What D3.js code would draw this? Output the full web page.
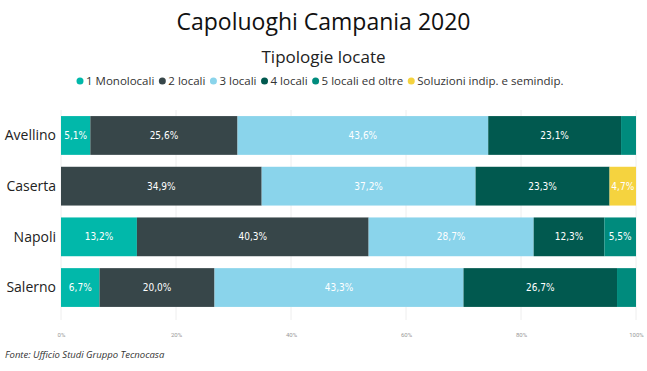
<!DOCTYPE html>
<html>
<head>
<meta charset="utf-8">
<script src="https://cdn.jsdelivr.net/npm/d3@7"></script>
<style>
  body { margin: 0; background: #fff; }
  svg text { font-family: "Open Sans", "Noto Sans", sans-serif; }
</style>
</head>
<body>
<div id="chart"></div>
<script>
// data
var cities = ["Avellino", "Caserta", "Napoli", "Salerno"];
var seriesNames = ["1 Monolocali", "2 locali", "3 locali", "4 locali", "5 locali ed oltre", "Soluzioni indip. e semindip."];
var seriesColors = ["#01B8AA", "#374649", "#8AD4EB", "#01594F", "#008B7D", "#F5D33F"];
var monolocali = [5.1, 0, 13.2, 6.7];
var locali2 = [25.6, 34.9, 40.3, 20.0];
var locali3 = [43.6, 37.2, 28.7, 43.3];
var locali4 = [23.1, 23.3, 12.3, 26.7];
var locali5 = [2.6, 0, 5.5, 3.3];
var indip = [0, 4.7, 0, 0];
var tickValues = [0, 20, 40, 60, 80, 100];

var width = 647, height = 371;
var margin = {left: 61, right: 11, top: 110, bottom: 58};

var svg = d3.select("#chart").append("svg")
    .attr("width", width)
    .attr("height", height);

var table = cities.map(function(c, i) {
  return {city: c, values: [monolocali[i], locali2[i], locali3[i], locali4[i], locali5[i], indip[i]]};
});

var xScale = d3.scaleLinear()
  .domain([0, 100])
  .range([margin.left, width - margin.right]);

var yScale = d3.scaleBand()
  .domain(cities)
  .range([margin.top, height - margin.bottom])
  .paddingInner(0.235)
  .paddingOuter(0.12);

// gridlines
svg.append("g")
  .selectAll("line")
  .data(tickValues)
  .enter()
  .append("line")
  .attr("x1", function(d) { return xScale(d); })
  .attr("x2", function(d) { return xScale(d); })
  .attr("y1", margin.top)
  .attr("y2", height - margin.bottom + 7)
  .style("stroke", "#eeeeee")
  .style("stroke-width", 1);

// x axis labels
var xAxis = d3.axisBottom(xScale)
  .tickValues(tickValues)
  .tickSize(0)
  .tickFormat(function(d) { return d + "%"; });

svg.append("g")
  .attr("class", "x axis")
  .attr("transform", "translate(0," + 330 + ")")
  .call(xAxis);

svg.select(".x.axis path").remove();
svg.select(".x.axis")
  .selectAll("text")
  .style("fill", "#999")
  .style("font-size", "6px")
  .style("font-family", "Roboto, sans-serif");

// stacked bars
var rows = svg.selectAll(".row")
  .data(table)
  .enter()
  .append("g")
  .attr("class", "row");

rows.each(function(d) {
  var g = d3.select(this);
  var start = 0;
  var segs = d.values.map(function(v, k) {
    var s = {v: v, k: k, x0: start, x1: start + v};
    start += v;
    return s;
  }).filter(function(s) { return s.v > 0; });

  g.selectAll("rect")
    .data(segs)
    .enter()
    .append("rect")
    .attr("x", function(s) { return xScale(s.x0); })
    .attr("width", function(s) { return xScale(Math.min(s.x1, 100)) - xScale(s.x0); })
    .attr("y", yScale(d.city))
    .attr("height", yScale.bandwidth())
    .style("fill", function(s) { return seriesColors[s.k]; });

  g.selectAll("text")
    .data(segs.filter(function(s) { return s.v >= 4; }))
    .enter()
    .append("text")
    .attr("x", function(s) { return (xScale(s.x0) + xScale(Math.min(s.x1, 100))) / 2; })
    .attr("y", yScale(d.city) + yScale.bandwidth() / 2)
    .attr("dy", "0.35em")
    .attr("text-anchor", "middle")
    .style("fill", "#ffffff")
    .style("font-size", "10px")
    .style("font-family", "'DejaVu Sans Condensed', Roboto, sans-serif")
    .text(function(s) { return s.v.toFixed(1).replace(".", ",") + "%"; });
});

// category labels
svg.selectAll(".cat")
  .data(cities)
  .enter()
  .append("text")
  .attr("class", "cat")
  .attr("x", margin.left - 5)
  .attr("y", function(d) { return yScale(d) + yScale.bandwidth() / 2; })
  .attr("dy", "0.35em")
  .attr("text-anchor", "end")
  .style("fill", "#222")
  .style("font-size", "14px")
  .text(function(d) { return d; });

// titles
svg.append("text")
  .attr("x", width / 2)
  .attr("y", 30)
  .attr("text-anchor", "middle")
  .style("font-size", "23px")
  .style("fill", "#111")
  .text("Capoluoghi Campania 2020");

svg.append("text")
  .attr("x", width / 2)
  .attr("y", 63)
  .attr("text-anchor", "middle")
  .style("font-size", "17px")
  .style("fill", "#222")
  .text("Tipologie locate");

// legend
var legend = svg.append("g").attr("transform", "translate(0,81)");
var lx = 80;
seriesNames.forEach(function(name, i) {
  legend.append("circle")
    .attr("cx", lx)
    .attr("cy", 0)
    .attr("r", 3.5)
    .style("fill", seriesColors[i]);
  var t = legend.append("text")
    .attr("x", lx + 6)
    .attr("y", 0)
    .attr("dy", "0.35em")
    .style("font-size", "11.5px")
    .style("fill", "#333")
    .text(name);
  lx += 6 + t.node().getComputedTextLength() + 8;
});

// source
svg.append("text")
  .attr("x", 5)
  .attr("y", 358)
  .style("font-size", "9.5px")
  .style("font-style", "italic")
  .style("fill", "#333")
  .text("Fonte: Ufficio Studi Gruppo Tecnocasa");
</script>
</body>
</html>
